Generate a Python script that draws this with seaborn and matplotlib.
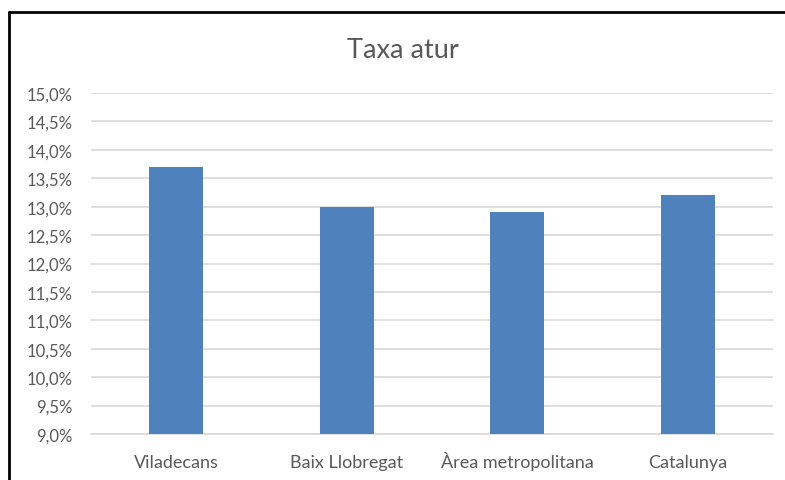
import matplotlib
matplotlib.use("Agg")
import matplotlib.pyplot as plt
from matplotlib.lines import Line2D
from matplotlib.ticker import FuncFormatter, MultipleLocator
import seaborn as sns
import pandas as pd

categories = ["Viladecans", "Baix Llobregat", "Àrea metropolitana", "Catalunya"]
values = [13.7, 13.0, 12.9, 13.2]
title = "Taxa atur"

sns.set_theme(style="white")
plt.rcParams["font.family"] = ["Lato", "DejaVu Sans"]

df = pd.DataFrame({"cat": categories, "val": values})

fig = plt.figure(figsize=(7.85, 4.81), dpi=100)
ax = fig.add_axes([91/785, 1-435/481, (773-91)/785, (435-94)/481])

sns.barplot(data=df, x="cat", y="val", order=categories, color="#4F81BD",
            saturation=1, width=0.317, ax=ax, zorder=3, linewidth=0)

ax.set_ylim(9, 15)
ax.set_xlim(-0.5, 3.5)
ax.yaxis.set_major_locator(MultipleLocator(0.5))
ax.yaxis.set_major_formatter(FuncFormatter(lambda v, p: f"{v:.1f}%".replace(".", ",")))
ax.grid(axis="y", color="#D9D9D9", linewidth=1.2, zorder=0)
ax.set_axisbelow(True)
for s in ["top", "right", "left"]:
    ax.spines[s].set_visible(False)
ax.spines["bottom"].set_color("#D9D9D9")
ax.spines["bottom"].set_linewidth(1.2)
ax.tick_params(axis="y", length=0, pad=13.5, labelsize=12, labelcolor="#595959")
ax.tick_params(axis="x", length=0, pad=24, labelsize=13, labelcolor="#595959")
for lab in ax.get_xticklabels():
    lab.set_va("baseline")
ax.set_xlabel("")
ax.set_ylabel("")

fig.text(403/785, 1-50/481, title, ha="center", va="center", fontsize=19.5, color="#595959")

ytop = 1 - 12.5/481
xl = 9/785
fig.add_artist(Line2D([xl, 1], [ytop, ytop], transform=fig.transFigure, color="black", linewidth=2))
fig.add_artist(Line2D([xl, xl], [0, ytop], transform=fig.transFigure, color="black", linewidth=2))

fig.savefig("out.png", dpi=100, facecolor="white")
